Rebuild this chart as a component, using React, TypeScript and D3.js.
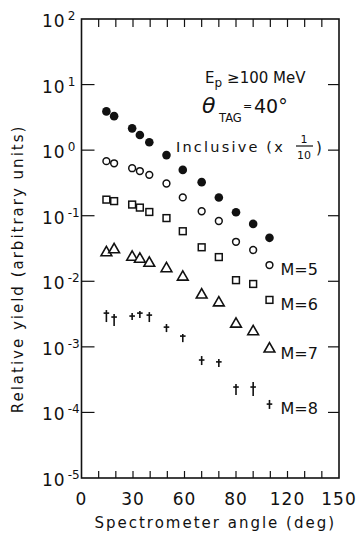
import { useEffect, useRef } from "react";
import * as d3 from "d3";

// spectrometer angle (deg), shared by every series
const angles = [14.5, 19, 29.5, 34, 39.5, 49.5, 59, 70, 80, 90, 100, 109.5];

// relative yield (arbitrary units)
const inclusive = [3.9, 3.3, 2.15, 1.7, 1.32, 0.84, 0.5, 0.325, 0.19, 0.113, 0.075, 0.046];
const m5 = [0.68, 0.63, 0.53, 0.48, 0.42, 0.31, 0.19, 0.117, 0.083, 0.04, 0.03, 0.0177];
const m6 = [0.176, 0.167, 0.148, 0.133, 0.114, 0.092, 0.058, 0.033, 0.0234, 0.0104, 0.0091, 0.0052];
const m7 = [0.0274, 0.0304, 0.0234, 0.0218, 0.0189, 0.0156, 0.0116, 0.0062, 0.0047, 0.00223, 0.00171, 0.00093];
const m8 = [0.00327, 0.00285, 0.00295, 0.00327, 0.00305, 0.002, 0.00146, 0.00063, 0.00059, 0.000244, 0.000244, 0.000134];
const m8Hi = [0.00364, 0.00316, 0.00327, 0.00351, 0.00339, 0.00223, 0.00157, 0.000724, 0.000652, 0.000271, 0.00029, 0.000155];
const m8Lo = [0.00239, 0.00208, 0.00256, 0.00275, 0.00239, 0.00168, 0.00118, 0.000528, 0.000492, 0.000184, 0.000178, 0.000113];

const seriesLabels = ["M=5", "M=6", "M=7", "M=8"];

// axis ticks
const xMinorTicks = d3.range(10, 150, 10);
const xLabelValues = [0, 30, 60, 90, 120, 150];
const xLabelTexts = ["0", "30", "60", "80", "120", "150"];
const yExponents = [2, 1, 0, -1, -2, -3, -4, -5];

const FONT = "'DejaVu Sans', sans-serif";
const INK = "#111";

export default function App() {
  const ref = useRef<HTMLDivElement>(null);

  useEffect(() => {
    if (!ref.current) return;
    document.body.style.margin = "0";
    const container = ref.current;
    container.innerHTML = "";

    const width = 361;
    const height = 535;
    const left = 81.5;
    const right = 339;
    const top = 19;
    const bottom = 478;

    const svg = d3
      .select(container)
      .append("svg")
      .attr("width", width)
      .attr("height", height)
      .style("display", "block")
      .style("background", "#fff");

    const x = d3.scaleLinear().domain([0, 150]).range([left, right]);
    const y = d3.scaleLog().domain([1e-5, 1e2]).range([bottom, top]);

    // -----------------------------
    // frame + ticks
    // -----------------------------
    svg
      .append("rect")
      .attr("x", left)
      .attr("y", top)
      .attr("width", right - left)
      .attr("height", bottom - top)
      .attr("fill", "none")
      .attr("stroke", INK)
      .attr("stroke-width", 1.6);

    const tickG = svg.append("g").attr("stroke", INK).attr("stroke-width", 1.2);

    xMinorTicks.forEach((t) => {
      tickG.append("line").attr("x1", x(t)).attr("x2", x(t)).attr("y1", top).attr("y2", top + 8);
      tickG.append("line").attr("x1", x(t)).attr("x2", x(t)).attr("y1", bottom).attr("y2", bottom - 7);
    });

    yExponents.slice(1, -1).forEach((e) => {
      const yy = y(Math.pow(10, e));
      tickG.append("line").attr("x1", left).attr("x2", left + 13).attr("y1", yy).attr("y2", yy);
      tickG.append("line").attr("x1", right).attr("x2", right - 11).attr("y1", yy).attr("y2", yy);
    });

    // x tick labels
    xLabelValues.forEach((v, i) => {
      svg
        .append("text")
        .attr("x", x(v))
        .attr("y", 505)
        .attr("text-anchor", "middle")
        .style("font-family", FONT)
        .style("font-size", "17px")
        .style("letter-spacing", "1px")
        .attr("fill", INK)
        .text(xLabelTexts[i]);
    });

    // y tick labels 10^n
    yExponents.forEach((e) => {
      const t = svg
        .append("text")
        .attr("x", 42)
        .attr("y", y(Math.pow(10, e)) + 8)
        .style("font-family", FONT)
        .attr("fill", INK);
      t.append("tspan").style("font-size", "17px").style("letter-spacing", "1px").text("10");
      t.append("tspan")
        .attr("dx", 2)
        .attr("dy", -7)
        .style("font-size", "12px")
        .text(e < 0 ? `-${-e}` : `${e}`);
    });

    // axis titles
    svg
      .append("text")
      .attr("x", (left + right) / 2 + 5)
      .attr("y", 528)
      .attr("text-anchor", "middle")
      .style("font-family", FONT)
      .style("font-size", "15px")
      .style("letter-spacing", "2px")
      .attr("fill", INK)
      .text("Spectrometer angle (deg)");

    svg
      .append("text")
      .attr("transform", `translate(23, 269) rotate(-90)`)
      .attr("text-anchor", "middle")
      .style("font-family", FONT)
      .style("font-size", "15px")
      .style("letter-spacing", "2px")
      .attr("fill", INK)
      .text("Relative yield (arbitrary units)");

    // -----------------------------
    // data markers
    // -----------------------------
    const g = svg.append("g");

    // inclusive (filled circles)
    g.selectAll("circle.incl")
      .data(inclusive)
      .join("circle")
      .attr("cx", (_, i) => x(angles[i]))
      .attr("cy", (d) => y(d))
      .attr("r", 4.3)
      .attr("fill", INK);

    // M=5 open circles
    g.selectAll("circle.m5")
      .data(m5)
      .join("circle")
      .attr("cx", (_, i) => x(angles[i]))
      .attr("cy", (d) => y(d))
      .attr("r", 3.4)
      .attr("fill", "#fff")
      .attr("stroke", INK)
      .attr("stroke-width", 1.5);

    // M=6 open squares
    g.selectAll("rect.m6")
      .data(m6)
      .join("rect")
      .attr("x", (_, i) => x(angles[i]) - 3.4)
      .attr("y", (d) => y(d) - 3.4)
      .attr("width", 6.8)
      .attr("height", 6.8)
      .attr("fill", "#fff")
      .attr("stroke", INK)
      .attr("stroke-width", 1.5);

    // M=7 open triangles
    const tri = d3.symbol().type(d3.symbolTriangle).size(50);
    g.selectAll("path.m7")
      .data(m7)
      .join("path")
      .attr("transform", (d, i) => `translate(${x(angles[i])},${y(d)})`)
      .attr("d", tri)
      .attr("fill", "#fff")
      .attr("stroke", INK)
      .attr("stroke-width", 1.6)
      .attr("stroke-linejoin", "miter");

    // M=8 daggers: cross bar at value, stem from lo to hi
    m8.forEach((v, i) => {
      const cx = x(angles[i]);
      g.append("line")
        .attr("x1", cx)
        .attr("x2", cx)
        .attr("y1", y(m8Hi[i]))
        .attr("y2", y(m8Lo[i]))
        .attr("stroke", INK)
        .attr("stroke-width", 1.6);
      g.append("line")
        .attr("x1", cx - 2.8)
        .attr("x2", cx + 2.8)
        .attr("y1", y(v))
        .attr("y2", y(v))
        .attr("stroke", INK)
        .attr("stroke-width", 1.6);
    });

    // series labels next to the last point
    const n = angles.length - 1;
    [m5, m6, m7, m8].forEach((s, k) => {
      svg
        .append("text")
        .attr("x", x(angles[n]) + 11)
        .attr("y", y(s[n]) + 10)
        .style("font-family", FONT)
        .style("font-size", "16px")
        .attr("fill", INK)
        .text(seriesLabels[k]);
    });

    // -----------------------------
    // annotations
    // -----------------------------
    const ep = svg
      .append("text")
      .attr("x", 205)
      .attr("y", 83)
      .style("font-family", FONT)
      .style("font-size", "15px")
      .attr("fill", INK);
    ep.append("tspan").text("E");
    ep.append("tspan").attr("dy", 4).style("font-size", "12px").text("p");
    ep.append("tspan").attr("dy", -4).attr("dx", 5).text("≥100 MeV");

    svg
      .append("text")
      .attr("x", 202)
      .attr("y", 113)
      .style("font-family", FONT)
      .style("font-size", "22px")
      .style("font-style", "italic")
      .attr("fill", INK)
      .text("θ");
    svg
      .append("text")
      .attr("x", 219)
      .attr("y", 122)
      .style("font-family", FONT)
      .style("font-size", "11.5px")
      .attr("fill", INK)
      .text("TAG");
    svg
      .append("text")
      .attr("x", 243)
      .attr("y", 110)
      .style("font-family", FONT)
      .style("font-size", "11px")
      .attr("fill", INK)
      .text("=");
    svg
      .append("text")
      .attr("x", 254)
      .attr("y", 113)
      .style("font-family", FONT)
      .style("font-size", "19px")
      .attr("fill", INK)
      .text("40°");

    svg
      .append("text")
      .attr("x", 176)
      .attr("y", 152)
      .style("font-family", FONT)
      .style("font-size", "14.5px")
      .style("letter-spacing", "2.2px")
      .attr("fill", INK)
      .text("Inclusive (x");
    svg
      .append("text")
      .attr("x", 304)
      .attr("y", 143)
      .attr("text-anchor", "middle")
      .style("font-family", FONT)
      .style("font-size", "11px")
      .attr("fill", INK)
      .text("1");
    svg
      .append("line")
      .attr("x1", 296)
      .attr("x2", 313)
      .attr("y1", 146)
      .attr("y2", 146)
      .attr("stroke", INK)
      .attr("stroke-width", 1.2);
    svg
      .append("text")
      .attr("x", 304)
      .attr("y", 159)
      .attr("text-anchor", "middle")
      .style("font-family", FONT)
      .style("font-size", "11px")
      .attr("fill", INK)
      .text("10");
    svg
      .append("text")
      .attr("x", 316)
      .attr("y", 153)
      .style("font-family", FONT)
      .style("font-size", "15px")
      .attr("fill", INK)
      .text(")");
  }, []);

  return <div ref={ref} />;
}
